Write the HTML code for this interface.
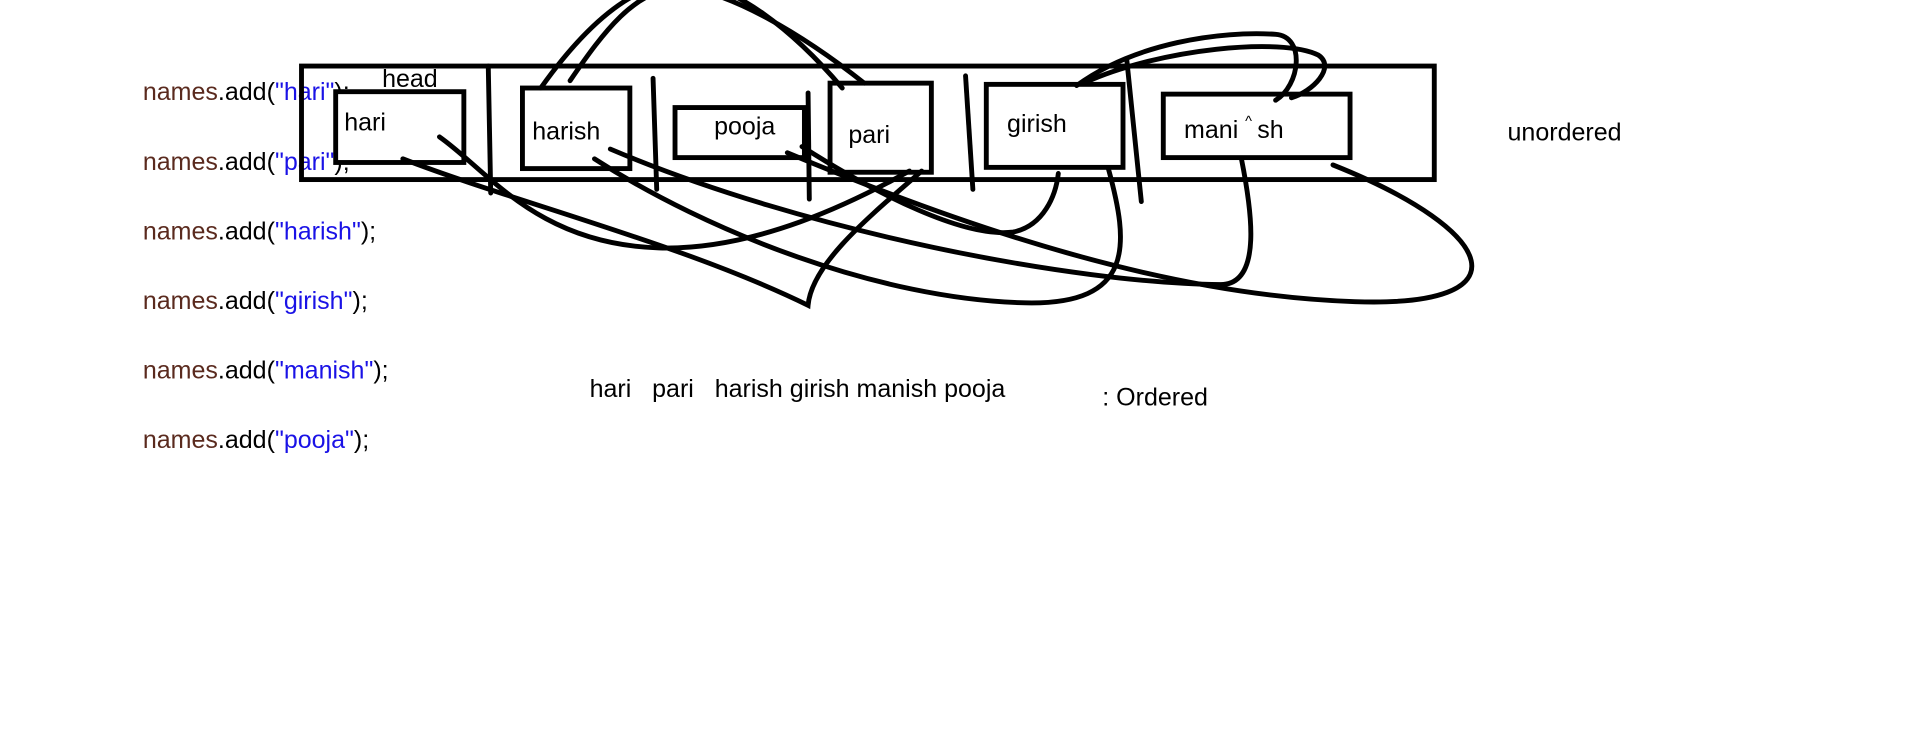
<!DOCTYPE html>
<html><head><meta charset="utf-8"><style>
html,body{margin:0;padding:0;background:#fff;}
svg{display:block;}
text{font-family:"Liberation Sans",sans-serif;font-size:20.5px;fill:#000;}
.b{fill:#1a12e6}.n{fill:#5a2a1e}
</style></head><body>
<svg width="1914" height="740" viewBox="0 0 1568 606" xmlns="http://www.w3.org/2000/svg">
<g>
<text x="117" y="82"><tspan class="n">names</tspan>.add(<tspan class="b">"hari"</tspan>);</text>
<text x="117" y="139"><tspan class="n">names</tspan>.add(<tspan class="b">"pari"</tspan>);</text>
<text x="117" y="196"><tspan class="n">names</tspan>.add(<tspan class="b">"harish"</tspan>);</text>
<text x="117" y="253"><tspan class="n">names</tspan>.add(<tspan class="b">"girish"</tspan>);</text>
<text x="117" y="310"><tspan class="n">names</tspan>.add(<tspan class="b">"manish"</tspan>);</text>
<text x="117" y="367"><tspan class="n">names</tspan>.add(<tspan class="b">"pooja"</tspan>);</text>
</g>
<g fill="none" stroke="#000" stroke-width="4" stroke-linecap="round">
<rect x="247" y="54" width="928" height="93"/>
<line x1="400" y1="54" x2="402" y2="158"/>
<rect x="275" y="75" width="105" height="58" fill="#fff"/>
<rect x="428" y="72" width="88" height="66"/>
<rect x="553" y="88" width="106" height="41"/>
<rect x="680" y="68" width="83" height="73"/>
<rect x="808" y="69" width="112" height="68"/>
<rect x="953" y="77" width="153" height="52"/>
<line x1="535" y1="64" x2="538" y2="155"/>
<line x1="662" y1="76" x2="663" y2="163"/>
<line x1="791" y1="62" x2="797" y2="155"/>
<line x1="923" y1="48" x2="935" y2="165"/>
<path d="M443,72 C480,20 520,-15 560,-15 C600,-15 650,25 690,72"/>
<path d="M467,66 C495,25 520,-8 555,-10 C595,-10 660,30 708,68"/>
<path d="M882,70 C930,35 1000,25 1045,28 C1070,30 1065,70 1045,82"/>
<path d="M890,67 C950,40 1050,30 1080,45 C1095,55 1075,75 1058,80"/>
<path d="M360,112 C400,140 440,200 540,203 C620,205 700,165 745,140"/>
<path d="M330,130 C420,165 560,200 662,250 C665,215 715,175 755,140"/>
<path d="M487,130 C580,190 720,245 840,248 C930,250 925,200 908,138"/>
<path d="M500,122 C660,190 880,232 1000,233 C1035,233 1025,170 1017,130"/>
<path d="M645,125 C800,190 960,242 1110,247 C1250,252 1230,190 1092,135"/>
<path d="M657,120 C720,160 790,195 830,190 C855,185 865,160 867,142"/>
</g>
<text x="313" y="71">head</text>
<text x="282" y="107">hari</text>
<text x="436" y="114">harish</text>
<text x="585" y="110">pooja</text>
<text x="695" y="117">pari</text>
<text x="825" y="108">girish</text>
<text x="970" y="113">mani</text><text x="1030" y="113">sh</text>
<text x="1020" y="103" style="font-size:12px">^</text>
<text x="1235" y="115">unordered</text>
<text x="483" y="325" xml:space="preserve">hari   pari   harish girish manish pooja</text>
<text x="903" y="332">: Ordered</text>
</svg>
</body></html>
